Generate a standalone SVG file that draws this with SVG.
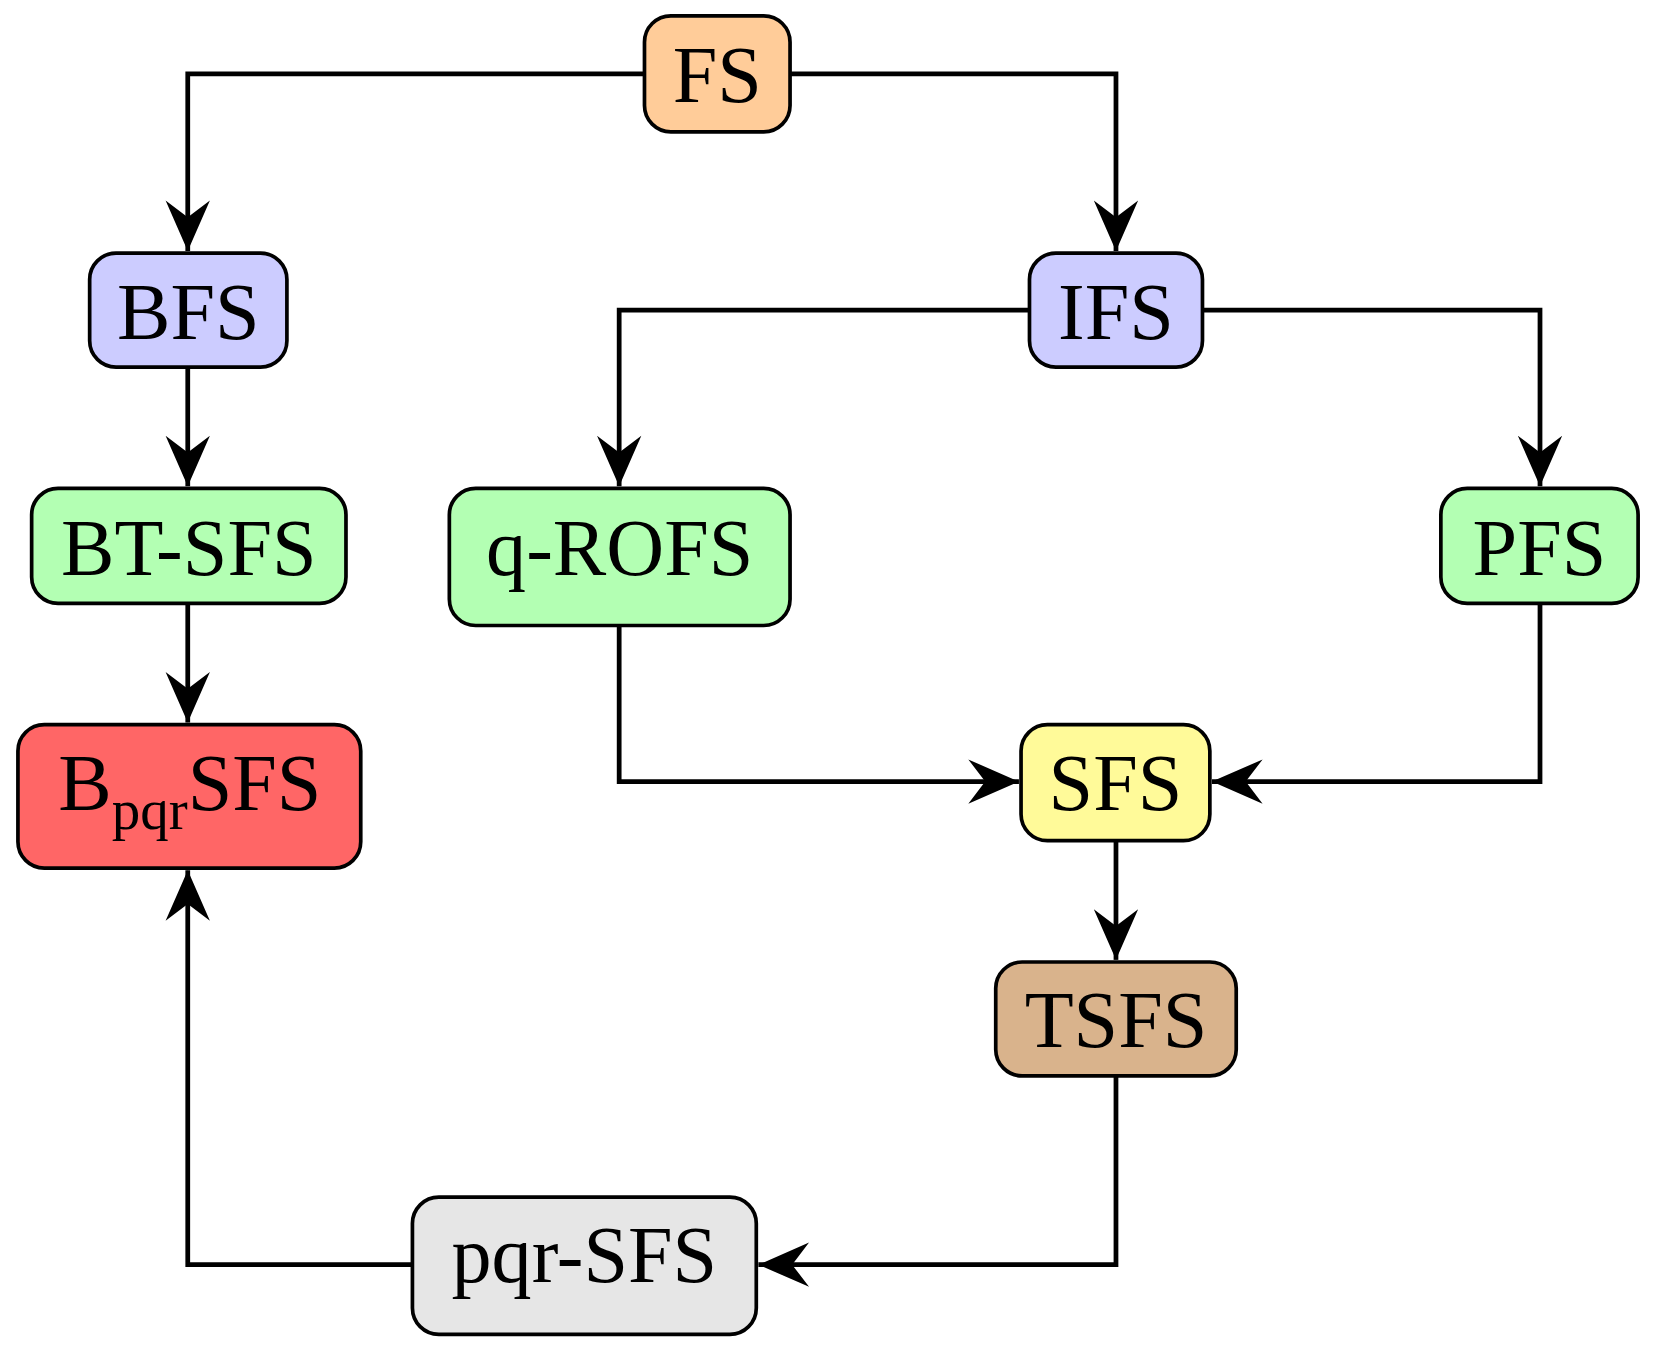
<svg xmlns="http://www.w3.org/2000/svg" width="1654" height="1348" viewBox="0 0 1654 1348">
<style>
.n{stroke:#000;stroke-width:3.5}
.t{font-family:"Liberation Serif","DejaVu Serif",serif;font-size:76px;text-anchor:middle;fill:#000}
.c{fill:none;stroke:#000;stroke-width:4.5;marker-end:url(#a)}
</style>
<defs>
<marker id="a" markerUnits="userSpaceOnUse" markerWidth="60" markerHeight="50" viewBox="-50 -25 52 50" refX="0" refY="0" orient="auto">
<path d="M0,0 L-48,-21 L-32,0 L-48,21 Z" fill="#000"/>
</marker>
</defs>
<rect width="1654" height="1348" fill="#fff"/>
<g transform="scale(1.0548)">
<g id="connectors">
<path class="c" d="M611,70 H178 V238"/>
<path class="c" d="M749,70 H1058 V238"/>
<path class="c" d="M976,294 H587 V461"/>
<path class="c" d="M1140,294 H1460 V461"/>
<path class="c" d="M178,348 V461"/>
<path class="c" d="M178,572 V685"/>
<path class="c" d="M587,593 V741 H966"/>
<path class="c" d="M1460,572 V741 H1149"/>
<path class="c" d="M1058,797 V910"/>
<path class="c" d="M1058,1020 V1199 H719"/>
<path class="c" d="M391,1199 H178 V825"/>
</g>
<g id="FS"><rect class="n" x="611" y="15" width="138" height="110" rx="25" fill="#FFCC99"/><text class="t" x="680" y="97">FS</text></g>
<g id="BFS"><rect class="n" x="85" y="240" width="187" height="108" rx="25" fill="#CCCCFF"/><text class="t" x="178.5" y="321">BFS</text></g>
<g id="IFS"><rect class="n" x="976" y="240" width="164" height="108" rx="25" fill="#CCCCFF"/><text class="t" x="1058" y="321">IFS</text></g>
<g id="BT-SFS"><rect class="n" x="30" y="463" width="298" height="109" rx="25" fill="#B3FFB3"/><text class="t" x="179" y="545">BT-SFS</text></g>
<g id="q-ROFS"><rect class="n" x="426" y="463" width="323" height="130" rx="25" fill="#B3FFB3"/><text class="t" x="587.5" y="545">q-ROFS</text></g>
<g id="PFS"><rect class="n" x="1366" y="463" width="187" height="109" rx="25" fill="#B3FFB3"/><text class="t" x="1459.5" y="545">PFS</text></g>
<g id="BpqrSFS"><rect class="n" x="17" y="687" width="325" height="136" rx="25" fill="#FF6666"/><text class="t" x="180" y="768">B<tspan font-size="54" dy="18">pqr</tspan><tspan dy="-18">SFS</tspan></text></g>
<g id="SFS"><rect class="n" x="968" y="687" width="179" height="110" rx="25" fill="#FFFA99"/><text class="t" x="1057.5" y="768">SFS</text></g>
<g id="TSFS"><rect class="n" x="944" y="912" width="228" height="108" rx="25" fill="#D9B38C"/><text class="t" x="1058" y="993">TSFS</text></g>
<g id="pqr-SFS"><rect class="n" x="391" y="1135" width="326" height="130" rx="25" fill="#E6E6E6"/><text class="t" x="554" y="1215">pqr-SFS</text></g>
</g>
</svg>
